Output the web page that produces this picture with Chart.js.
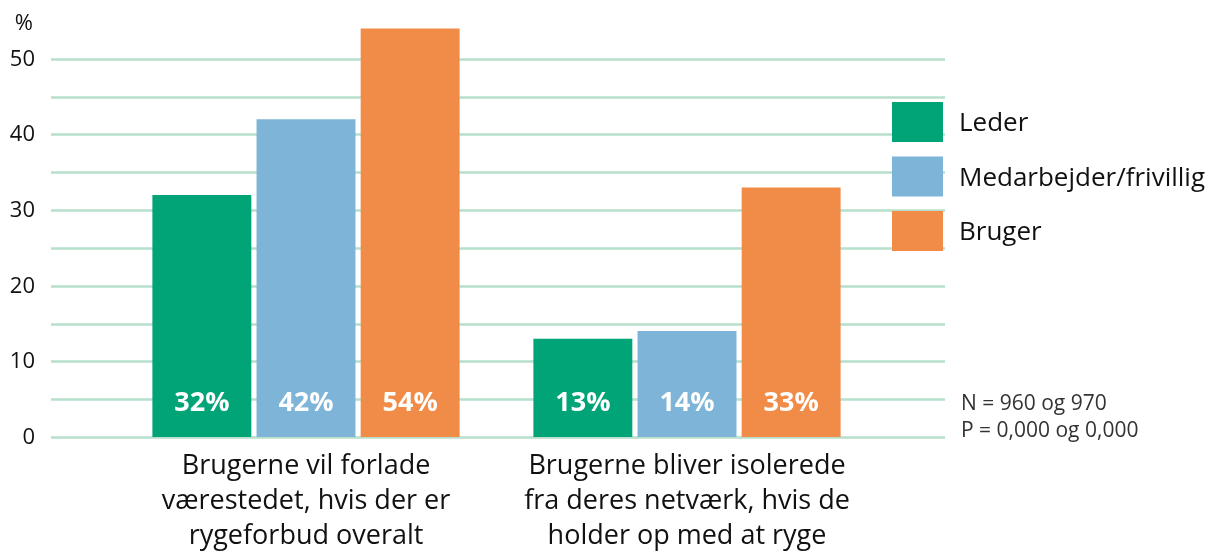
<!DOCTYPE html>
<html>
<head>
<meta charset="utf-8">
<script src="https://cdn.jsdelivr.net/npm/chart.js@4/dist/chart.umd.min.js"></script>
<style>
  html, body { margin: 0; padding: 0; background: #fff; }
  #wrap { width: 1213px; height: 551px; position: relative; }
</style>
</head>
<body>
<div id="wrap"><canvas id="chart" width="1213" height="551"></canvas></div>
<script>
const categories = [
  ['Brugerne vil forlade', 'værestedet, hvis der er', 'rygeforbud overalt'],
  ['Brugerne bliver isolerede', 'fra deres netværk, hvis de', 'holder op med at ryge']
];
const seriesNames = ['Leder', 'Medarbejder/frivillig', 'Bruger'];
const lederValues = [32, 13];
const medarbejderValues = [42, 14];
const brugerValues = [54, 33];
const seriesColors = ['#00a476', '#7db4d7', '#f08c47'];
const noteLines = ['N = 960 og 970', 'P = 0,000 og 0,000'];
const yMax = 55;

const FONT = "'Open Sans', sans-serif";
const gridColor = '#b7dfcc';

// gridlines and y labels sit outside the bar area, so draw them ourselves
const gridPlugin = {
  id: 'wideGrid',
  beforeDatasetsDraw(chart) {
    const ctx = chart.ctx;
    const y = chart.scales.y;
    ctx.save();
    ctx.strokeStyle = gridColor;
    ctx.lineWidth = 2.5;
    ctx.fillStyle = '#111';
    ctx.font = "22px " + FONT;
    ctx.textAlign = 'right';
    ctx.textBaseline = 'middle';
    y.ticks.forEach(t => {
      const py = Math.round(y.getPixelForValue(t.value)) + 0.5;
      if (t.value >= yMax) {
        ctx.fillText('%', 33, py + 2);
        return;
      }
      ctx.beginPath();
      ctx.moveTo(51, py);
      ctx.lineTo(945, py);
      ctx.stroke();
      if (t.value % 10 === 0) ctx.fillText(String(t.value), 35, py);
    });
    ctx.restore();
  }
};

const labelPlugin = {
  id: 'barLabels',
  afterDatasetsDraw(chart) {
    const ctx = chart.ctx;
    const y0 = chart.scales.y.getPixelForValue(0);
    ctx.save();
    ctx.fillStyle = '#fff';
    ctx.font = "bold 27px " + FONT;
    ctx.textAlign = 'center';
    ctx.textBaseline = 'middle';
    chart.data.datasets.forEach((ds, i) => {
      chart.getDatasetMeta(i).data.forEach((bar, j) => {
        ctx.fillText(ds.data[j] + '%', bar.x, y0 - 34);
      });
    });

    // legend
    ctx.textAlign = 'left';
    ctx.font = "26px " + FONT;
    chart.data.datasets.forEach((ds, i) => {
      const top = 102 + i * 54.5;
      ctx.fillStyle = ds.backgroundColor;
      ctx.fillRect(892, top, 51, 40);
      ctx.fillStyle = '#111';
      ctx.fillText(ds.label, 959, top + 22);
    });

    // note
    ctx.font = "21px " + FONT;
    ctx.fillStyle = '#333';
    noteLines.forEach((line, i) => {
      ctx.fillText(line, 961, 404 + i * 27);
    });
    ctx.restore();
  }
};

new Chart(document.getElementById('chart'), {
  type: 'bar',
  data: {
    labels: categories,
    datasets: [
      { label: seriesNames[0], data: lederValues, backgroundColor: seriesColors[0] },
      { label: seriesNames[1], data: medarbejderValues, backgroundColor: seriesColors[1] },
      { label: seriesNames[2], data: brugerValues, backgroundColor: seriesColors[2] }
    ]
  },
  options: {
    responsive: false,
    animation: false,
    layout: { padding: { top: 21, right: 335.5, left: 115.5, bottom: 0 } },
    datasets: {
      bar: { categoryPercentage: 0.82, barPercentage: 0.95 }
    },
    plugins: {
      legend: { display: false },
      tooltip: { enabled: false }
    },
    scales: {
      x: {
        grid: { display: false },
        border: { display: false },
        afterFit(scale) { scale.height = 114; },
        ticks: {
          color: '#111',
          padding: 4,
          maxRotation: 0,
          font: { family: FONT, size: 27, lineHeight: 1.3 }
        }
      },
      y: {
        display: false,
        min: 0,
        max: yMax,
        ticks: { stepSize: 5 }
      }
    }
  },
  plugins: [gridPlugin, labelPlugin]
});
</script>
</body>
</html>
